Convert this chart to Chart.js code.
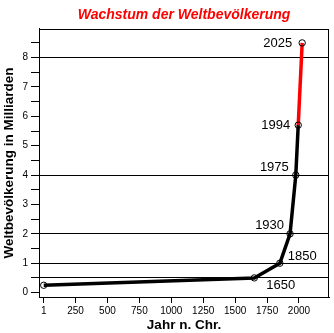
<!DOCTYPE html>
<html>
<head>
<meta charset="utf-8">
<script src="https://cdn.jsdelivr.net/npm/chart.js@4"></script>
<style>
  html, body { margin: 0; padding: 0; background: #fff; }
  #c { display: block; }
</style>
</head>
<body>
<canvas id="c" width="334" height="333"></canvas>
<script>
// World population (billions) at selected years
const years = [1, 1650, 1850, 1930, 1975, 1994, 2025];
const population = [0.25, 0.5, 1.0, 2.0, 4.0, 5.7, 8.5];
const pointLabels = ['1', '1650', '1850', '1930', '1975', '1994', '2025'];
const labelledYears = ['1650', '1850', '1930', '1975', '1994', '2025'];
const projectionFrom = 1994; // segment from here on is drawn in red
const xTicks = [1, 250, 500, 750, 1000, 1250, 1500, 1750, 2000];
const yTicks = [0, 0.5, 1, 1.5, 2, 2.5, 3, 3.5, 4, 4.5, 5, 5.5, 6, 6.5, 7, 7.5, 8, 8.5];
const gridLevels = [0.5, 1, 2, 4, 8];

const FONT = 'Liberation Sans, Arial, Helvetica, sans-serif';

// Placement of each year label relative to its point: [dx, dy, align]
const labelPlacement = {
  '1650': [12, 8, 'left'],
  '1850': [8, -7, 'left'],
  '1930': [-6, -8, 'right'],
  '1975': [-7, -8, 'right'],
  '1994': [-8, 0, 'right'],
  '2025': [-10, 1, 'right']
};

const frameAndLabels = {
  id: 'frameAndLabels',
  afterDatasetsDraw(chart) {
    const { ctx, chartArea: a } = chart;
    ctx.save();
    ctx.strokeStyle = '#000';
    ctx.lineWidth = 1;
    ctx.strokeRect(Math.round(a.left) + 0.5, Math.round(a.top) + 0.5,
                   Math.round(a.right - a.left) - 1, Math.round(a.bottom - a.top));
    const meta = chart.getDatasetMeta(0);
    ctx.font = '13px ' + FONT;
    ctx.fillStyle = '#000';
    ctx.textBaseline = 'middle';
    meta.data.forEach((pt, i) => {
      const name = pointLabels[i];
      if (!labelledYears.includes(name)) return;
      const [dx, dy, align] = labelPlacement[name];
      ctx.textAlign = align;
      ctx.fillText(name, pt.x + dx, pt.y + dy);
    });
    ctx.restore();
  }
};

new Chart(document.getElementById('c'), {
  type: 'line',
  data: {
    datasets: [{
      data: years.map((y, i) => ({ x: y, y: population[i] })),
      borderColor: '#000',
      borderWidth: 3.5,
      tension: 0,
      pointRadius: 3.2,
      pointBorderWidth: 1,
      pointBorderColor: '#000',
      pointBackgroundColor: 'rgba(255,255,255,0)',
      segment: {
        borderColor: c => (years[c.p0DataIndex] >= projectionFrom ? '#ff0000' : '#000')
      }
    }]
  },
  plugins: [frameAndLabels],
  options: {
    responsive: false,
    animation: false,
    devicePixelRatio: 1,
    layout: { padding: { left: 0, right: 1, top: 0, bottom: 0 } },
    plugins: {
      legend: { display: false },
      tooltip: { enabled: false },
      title: {
        display: true,
        fullSize: false,
        text: 'Wachstum der Weltbevölkerung',
        color: '#ff0000',
        font: { family: FONT, size: 14, weight: 'bold', style: 'italic' },
        padding: { top: 7, bottom: 5 }
      }
    },
    scales: {
      x: {
        type: 'linear',
        min: -36,
        max: 2235,
        afterBuildTicks: s => { s.ticks = xTicks.map(v => ({ value: v })); },
        afterFit: s => { s.height = 36; },
        grid: { drawOnChartArea: false, tickLength: 6, tickColor: '#000', lineWidth: 1 },
        border: { color: '#000' },
        ticks: {
          font: { family: FONT, size: 10 },
          color: '#000',
          padding: 2,
          maxRotation: 0,
          autoSkip: false,
          callback: v => String(v)
        },
        title: {
          display: true,
          text: 'Jahr n. Chr.',
          color: '#000',
          font: { family: FONT, size: 13.5, weight: 'bold' },
          padding: { top: 0, bottom: 0 }
        }
      },
      y: {
        min: -0.15,
        max: 8.98,
        afterBuildTicks: s => { s.ticks = yTicks.map(v => ({ value: v })); },
        afterFit: s => { s.width = 39; },
        grid: {
          drawOnChartArea: true,
          color: c => (c.tick && gridLevels.includes(c.tick.value) ? '#000' : 'rgba(0,0,0,0)'),
          tickColor: '#000',
          tickLength: 8,
          lineWidth: 1
        },
        border: { color: '#000' },
        ticks: {
          font: { family: FONT, size: 10 },
          color: '#000',
          padding: 3,
          autoSkip: false,
          callback: v => (Number.isInteger(v) ? String(v) : '')
        },
        title: {
          display: true,
          text: 'Weltbevölkerung in Milliarden',
          color: '#000',
          font: { family: FONT, size: 13.5, weight: 'bold' },
          padding: { top: 1, bottom: 0 }
        }
      }
    }
  }
});
</script>
</body>
</html>
